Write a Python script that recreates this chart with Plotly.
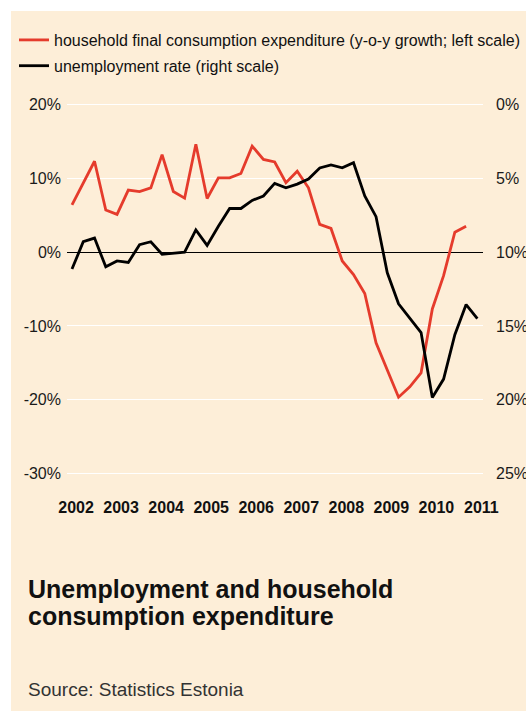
import plotly.graph_objects as go

# ---- data (quarterly) ----
quarters = [f"{y}Q{q}" for y in range(2002, 2012) for q in range(1, 5)][:37]

consumption_growth = [6.4, 9.35, 12.3, 5.7, 5.1, 8.4, 8.2, 8.7, 13.2, 8.2, 7.3, 14.6,
                      7.25, 10.05, 10.05, 10.65, 14.35, 12.55, 12.2, 9.4, 10.95, 8.7, 3.75, 3.2,
                      -1.2, -3.05, -5.6, -12.3, -15.9, -19.65, -18.25, -16.35, -7.7, -3.2, 2.7, 3.5]

unemployment_rate = [11.15, 9.3, 9.05, 11.0, 10.6, 10.7, 9.5, 9.3, 10.15, 10.05, 10.0, 8.5,
                     9.55, 8.25, 7.05, 7.05, 6.5, 6.2, 5.35, 5.65, 5.4, 5.05, 4.3, 4.1,
                     4.3, 3.95, 6.2, 7.6, 11.4, 13.5, 14.45, 15.45, 19.85, 18.6, 15.6, 13.55, 14.5]

years = list(range(2002, 2012))
left_ticks = [-30, -20, -10, 0, 10, 20]
left_labels = ["-30%", "-20%", "-10%", "0%", "10%", "20%"]
right_ticks = [0, 5, 10, 15, 20, 25]
right_labels = ["0%", "5%", "10%", "15%", "20%", "25%"]
title_lines = ["Unemployment and household", "consumption expenditure"]
source_text = "Source: Statistics Estonia"

def qpos(label):
    return int(label[:4]) + (int(label[-1]) - 1) / 4

x_cons = [qpos(q) for q in quarters[:len(consumption_growth)]]
x_unemp = [qpos(q) for q in quarters[:len(unemployment_rate)]]

BG = "#FDEED8"
RED = "#E53B2C"
FONT = "Liberation Sans, Arial, sans-serif"

W, H = 526, 711
ML, MR, MT, MB = 67, 43, 97, 230
PW, PH = W - ML - MR, H - MT - MB

fig = go.Figure()
fig.add_trace(go.Scatter(x=x_unemp, y=unemployment_rate, mode="lines", yaxis="y2",
                         name="unemployment rate (right scale)", legendgroup="b",
                         line=dict(color="#000000", width=2.8), legendrank=2))
fig.add_trace(go.Scatter(x=x_cons, y=consumption_growth, mode="lines",
                         name="household final consumption expenditure (y-o-y growth; left scale)",
                         legendgroup="a",
                         line=dict(color=RED, width=2.8), legendrank=1))

def px_x(px):
    return (px - ML) / PW

def px_y(py):
    return (H - MB - py) / PH

annotations = []
for i, line in enumerate(title_lines):
    annotations.append(dict(text=f"<b>{line}</b>", xref="paper", yref="paper",
                            x=px_x(26), y=px_y(573 + 26.7 * i), xanchor="left", yanchor="top",
                            align="left", showarrow=False,
                            font=dict(size=25, color="#111111", family=FONT)))
annotations.append(dict(text=source_text, xref="paper", yref="paper", x=px_x(26), y=px_y(677),
                        xanchor="left", yanchor="top", align="left", showarrow=False,
                        font=dict(size=19, color="#333333", family=FONT)))

fig.update_layout(
    width=W, height=H,
    margin=dict(l=ML, r=MR, t=MT, b=MB, pad=0, autoexpand=False),
    paper_bgcolor=BG, plot_bgcolor="rgba(0,0,0,0)",
    font=dict(family=FONT, size=16, color="#1a1a1a"),
    showlegend=True,
    legend=dict(xref="container", yref="container", x=14 / W, y=1 - 23 / H,
                xanchor="left", yanchor="top", bgcolor="rgba(0,0,0,0)",
                font=dict(size=16, color="#111111"), traceorder="grouped",
                tracegroupgap=2, itemwidth=30),
    xaxis=dict(range=[2001.889, 2011.125], tickvals=[y + 0.09 for y in years],
               ticktext=[str(y) for y in years], showgrid=False, zeroline=False,
               showline=False, ticks="", ticklabelstandoff=15,
               tickfont=dict(size=16, color="#111111", family=FONT, weight="bold")),
    yaxis=dict(range=[-31, 21], tickvals=left_ticks, ticktext=left_labels,
               showgrid=True, gridcolor="#FFFFFF", gridwidth=1.2,
               zeroline=True, zerolinecolor="#000000", zerolinewidth=1,
               showline=False, ticks="", ticklabelstandoff=5,
               tickfont=dict(size=16, color="#1a1a1a")),
    yaxis2=dict(range=[25.5, -0.5], overlaying="y", side="right",
                tickvals=right_ticks, ticktext=right_labels, showgrid=False,
                zeroline=False, showline=False, ticks="", ticklabelstandoff=12,
                tickfont=dict(size=16, color="#1a1a1a")),
    shapes=[
        dict(type="rect", xref="paper", yref="paper", x0=px_x(0), x1=px_x(11),
             y0=px_y(H + 2), y1=px_y(-2), fillcolor="#FFFFFF", line=dict(width=0), layer="below"),
        dict(type="rect", xref="paper", yref="paper", x0=px_x(0), x1=px_x(W + 2),
             y0=px_y(11), y1=px_y(-2), fillcolor="#FFFFFF", line=dict(width=0), layer="below"),
    ],
    annotations=annotations,
)

fig.write_html("out.html")
